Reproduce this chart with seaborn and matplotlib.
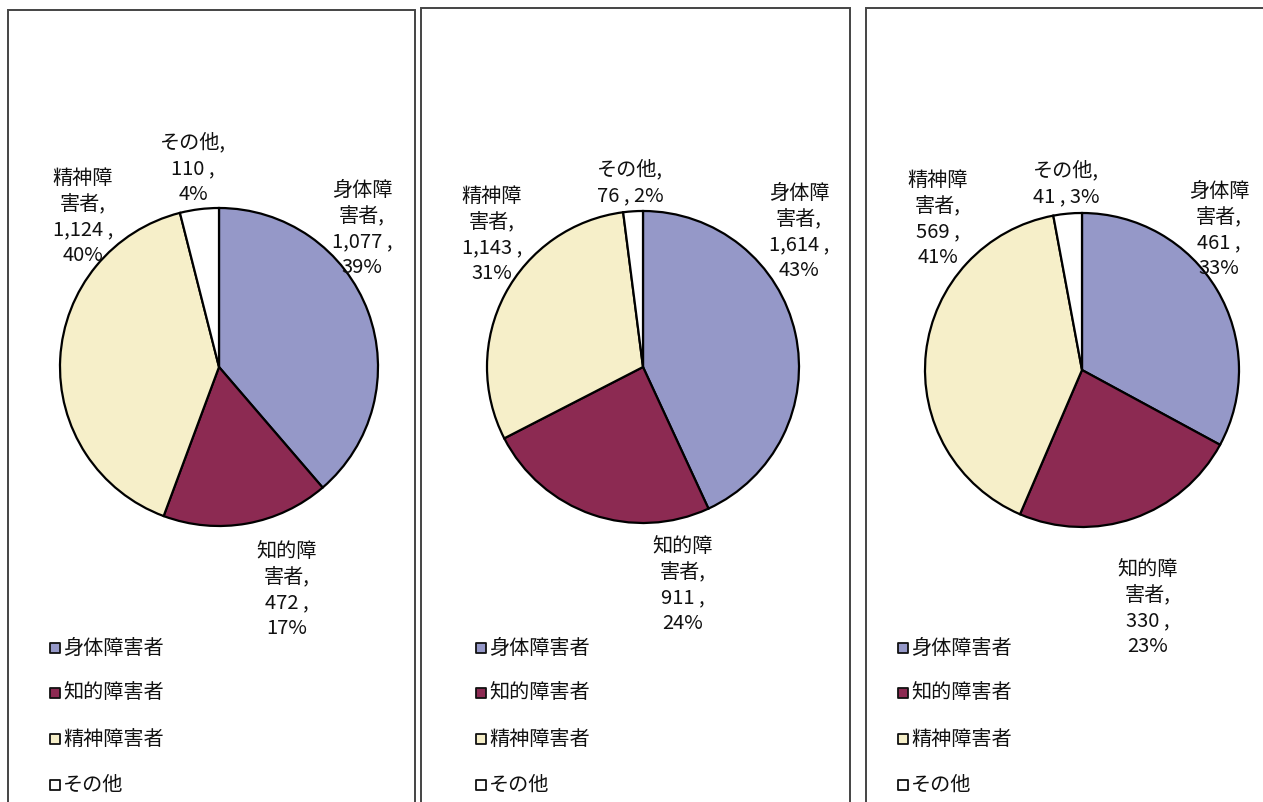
import matplotlib
matplotlib.use("Agg")
import matplotlib.pyplot as plt
import seaborn as sns
from matplotlib.patches import Rectangle

# データ(3つの円グラフ)
categories = ["身体障害者", "知的障害者", "精神障害者", "その他"]
label_names = ["身体障\n害者", "知的障\n害者", "精神障\n害者", "その他"]
values_1 = [1077, 472, 1124, 110]
values_2 = [1614, 911, 1143, 76]
values_3 = [461, 330, 569, 41]
pcts_1 = [39, 17, 40, 4]
pcts_2 = [43, 24, 31, 2]
pcts_3 = [33, 23, 41, 3]

colors = ["#9598c8", "#8c2a52", "#f6efc9", "#ffffff"]

sns.set_theme(style="white")
plt.rcParams["font.family"] = ["Noto Sans CJK JP", "DejaVu Sans"]

W, H = 1263, 802
fig = plt.figure(figsize=(W / 100, H / 100), dpi=100)
ax = fig.add_axes([0, 0, 1, 1])


def py(y):
    # 画像座標(上から)をデータ座標へ
    return H - y


# パネル枠
for x0, x1, y0 in [(8, 415, 10), (421, 850, 8), (866, 1290, 8)]:
    ax.add_patch(Rectangle((x0, -20), x1 - x0, py(y0) + 20, fill=False,
                           edgecolor="#444444", lw=1.4, zorder=0))

panels = [
    dict(vals=values_1, pcts=pcts_1, center=(219, 367), r=159,
         lab=[(362, 229), (287, 590), (83, 217), (193, 169)], other_two=False,
         leg_x=55),
    dict(vals=values_2, pcts=pcts_2, center=(643, 367), r=156,
         lab=[(799, 232), (683, 585), (492, 235), (630, 183)], other_two=True,
         leg_x=481),
    dict(vals=values_3, pcts=pcts_3, center=(1082, 370), r=157,
         lab=[(1219, 230), (1148, 608), (938, 219), (1066, 184)], other_two=True,
         leg_x=903),
]
leg_y = [648, 693, 739, 785]

for p in panels:
    cx, cy = p["center"]
    ax.pie(p["vals"], colors=colors, startangle=90, counterclock=False,
           center=(cx, py(cy)), radius=p["r"],
           wedgeprops=dict(edgecolor="black", linewidth=1.6))
    for i, (name, v, pc) in enumerate(zip(label_names, p["vals"], p["pcts"])):
        if i == 3 and p["other_two"]:
            txt = f"{name},\n{v:,} , {pc}%"
        else:
            txt = f"{name},\n{v:,} ,\n{pc}%"
        lx, ly = p["lab"][i]
        ax.text(lx, py(ly), txt, ha="center", va="center", multialignment="center",
                fontsize=14.5, linespacing=1.3, color="#111111")
    # 凡例
    for c, name, y in zip(colors, categories, leg_y):
        ax.scatter([p["leg_x"]], [py(y)], marker="s", s=45, color=c,
                   edgecolor="#111111", linewidth=1.3, zorder=3)
        ax.text(p["leg_x"] + 8, py(y), name, ha="left", va="center",
                fontsize=14.5, color="#111111")

ax.set_xlim(0, W)
ax.set_ylim(0, H)
ax.set_aspect("equal")
ax.axis("off")

fig.savefig("out.png", dpi=100, facecolor="white")
